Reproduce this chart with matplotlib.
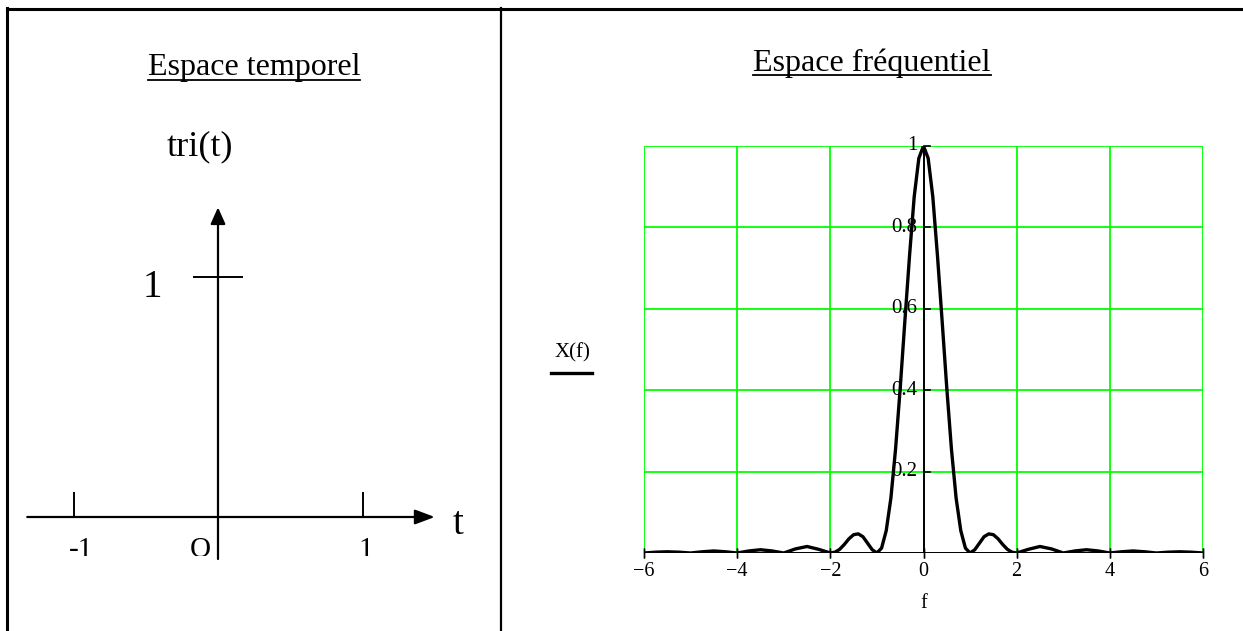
import matplotlib
matplotlib.use("Agg")
import matplotlib.pyplot as plt
from matplotlib.lines import Line2D
from matplotlib.transforms import Bbox, TransformedBbox

plt.rcParams['font.family'] = ['Liberation Serif', 'DejaVu Serif']

# ---------------- data ----------------
left_title = "Espace temporel"
right_title = "Espace fréquentiel"
tri_label = "tri(t)"
t_ticks = [-1, 1]
t_tick_labels = ["-1", "1"]
origin_label = "O"
tri_peak = 1
t_axis_range = [-1.32, 1.50]
tri_axis_range = [-0.175, 1.29]

f_values = [-6.0, -5.75, -5.5, -5.25, -5.0, -4.75, -4.5, -4.25, -4.0,
            -3.75, -3.5, -3.25, -3.0, -2.75, -2.5, -2.25, -2.0,
            -1.9, -1.8, -1.7, -1.6, -1.5, -1.4, -1.3, -1.2, -1.1, -1.0,
            -0.9, -0.8, -0.7, -0.6, -0.5, -0.4, -0.3, -0.2, -0.1, 0.0,
            0.1, 0.2, 0.3, 0.4, 0.5, 0.6, 0.7, 0.8, 0.9, 1.0,
            1.1, 1.2, 1.3, 1.4, 1.5, 1.6, 1.7, 1.8, 1.9, 2.0,
            2.25, 2.5, 2.75, 3.0, 3.25, 3.5, 3.75, 4.0,
            4.25, 4.5, 4.75, 5.0, 5.25, 5.5, 5.75, 6.0]
X_values = [0.0, 0.002, 0.003, 0.002, 0.0, 0.003, 0.005, 0.003, 0.0,
            0.005, 0.008, 0.005, 0.0, 0.010, 0.016, 0.009, 0.0,
            0.002, 0.009, 0.021, 0.035, 0.045, 0.047, 0.040, 0.024, 0.008, 0.0,
            0.012, 0.055, 0.135, 0.255, 0.405, 0.57, 0.73, 0.875, 0.97, 1.0,
            0.97, 0.875, 0.73, 0.57, 0.405, 0.255, 0.135, 0.055, 0.012, 0.0,
            0.008, 0.024, 0.040, 0.047, 0.045, 0.035, 0.021, 0.009, 0.002, 0.0,
            0.009, 0.016, 0.010, 0.0, 0.005, 0.008, 0.005, 0.0,
            0.003, 0.005, 0.003, 0.0, 0.002, 0.003, 0.002, 0.0]
f_ticks = [-6, -4, -2, 0, 2, 4, 6]
f_tick_labels = ["\u22126", "\u22124", "\u22122", "0", "2", "4", "6"]
y_ticks = [0.2, 0.4, 0.6, 0.8, 1.0]
y_tick_labels = ["0.2", "0.4", "0.6", "0.8", "1"]
y_label = "X(f)"
x_label = "f"

# ---------------- figure ----------------
W, H = 1243, 631
fig = plt.figure(figsize=(W / 100, H / 100), dpi=100)


def fx(px):
    return px / W


def fy(py):
    return 1 - py / H


# table borders
fig.add_artist(Line2D([fx(7), fx(7)], [fy(8), fy(631)], color='black', lw=2.2))
fig.add_artist(Line2D([fx(7), fx(1243)], [fy(8.5), fy(8.5)], color='black', lw=2.2))
fig.add_artist(Line2D([fx(501), fx(501)], [fy(8), fy(631)], color='black', lw=1.6))

# ---------------- left panel ----------------
axL = fig.add_axes([0, 0, 500 / W, 1])
axL.set_axis_off()
sx, t0 = 144.5, 218.0
sy, y0 = 240.0, 517.0
axL.set_xlim((0 - t0) / sx, (500 - t0) / sx)
axL.set_ylim((y0 - 631) / sy, y0 / sy)

axL.annotate("", xy=(t_axis_range[1], 0), xytext=(t_axis_range[0], 0),
             arrowprops=dict(arrowstyle="-|>,head_length=1.2,head_width=0.45",
                             color='black', lw=1.6, shrinkA=0, shrinkB=0))
axL.annotate("", xy=(0, tri_axis_range[1]), xytext=(0, tri_axis_range[0]),
             arrowprops=dict(arrowstyle="-|>,head_length=1.0,head_width=0.45",
                             color='black', lw=1.6, shrinkA=0, shrinkB=0))
for tt in t_ticks:
    axL.plot([tt, tt], [0, 24 / sy], color='black', lw=1.4)
axL.plot([-24 / sx, 24 / sx], [tri_peak, tri_peak], color='black', lw=1.4)

clip = TransformedBbox(Bbox.from_extents(-2, (y0 - 556) / sy, 2, 0), axL.transData)
bottom_labels = []
for tt, lab in zip(t_ticks, t_tick_labels):
    xx = tt + (8 / sx if tt < 0 else 3 / sx)
    bottom_labels.append(axL.text(xx, (y0 - 537) / sy, lab, ha='center', va='top', fontsize=21))
bottom_labels.append(axL.text(-18 / sx, (y0 - 537) / sy, origin_label, ha='center', va='top', fontsize=21))
for tx in bottom_labels:
    tx.set_clip_on(True)
    tx.set_clip_path(None)
    tx.set_clip_box(clip)

axL.text((152 - t0) / sx, tri_peak - 10 / sy, "1", ha='center', va='center', fontsize=28)
axL.text((458 - t0) / sx, -8 / sy, "t", ha='center', va='center', fontsize=28)
axL.text((200 - t0) / sx, (y0 - 147) / sy, tri_label, ha='center', va='center', fontsize=26)

# ---------------- right panel ----------------
axR = fig.add_axes([fx(644), fy(553), (1203 - 644) / W, (553 - 146) / H])
axR.set_xlim(-6, 6)
axR.set_ylim(0, 1)
for s in axR.spines.values():
    s.set_visible(False)
axR.set_xticks([])
axR.set_yticks([])
green = '#00ff00'
for v in f_ticks:
    axR.axvline(v, color=green, lw=1.3, zorder=1)
for v in [0.0] + y_ticks:
    axR.axhline(v, color=green, lw=1.3, zorder=1)
axR.axhline(0, color='black', lw=1.4, zorder=2)
axR.axvline(0, color='black', lw=1.4, zorder=2)

axR.plot(f_values, X_values, color='black', lw=2.4, zorder=3, solid_joinstyle='round')

for v in f_ticks:
    axR.plot([v, v], [0, 0], marker='|', ms=7, color='black', zorder=3, clip_on=False)
for v, lab in zip(f_ticks, f_tick_labels):
    axR.text(v, -19 / 407, lab, ha='center', va='center', fontsize=14.5, clip_on=False)
for v, lab in zip(y_ticks, y_tick_labels):
    axR.plot([0, 0.15], [v, v], color='black', lw=1.2, zorder=3, clip_on=False)
    axR.text(-0.13, v, lab, ha='right', va='center', fontsize=15, clip_on=False, zorder=4)
axR.text(0, -50 / 407, x_label, ha='center', va='center', fontsize=14.5, clip_on=False)

fig.text(fx(572), fy(353), y_label, ha='center', va='center', fontsize=15)
fig.add_artist(Line2D([fx(551), fx(592)], [fy(373), fy(373)], color='black', lw=2.4))

# titles with underline
titles = []
titles.append(fig.text(fx(254), fy(68), left_title, ha='center', va='center', fontsize=23))
titles.append(fig.text(fx(872), fy(63), right_title, ha='center', va='center', fontsize=23))

fig.canvas.draw()
r = fig.canvas.get_renderer()
for tt in titles:
    bb = tt.get_window_extent(r)
    yline = bb.y0 + 3
    fig.add_artist(Line2D([bb.x0 / W, bb.x1 / W], [yline / H, yline / H],
                          color='black', lw=1.3))

fig.savefig("out.png", dpi=100)
